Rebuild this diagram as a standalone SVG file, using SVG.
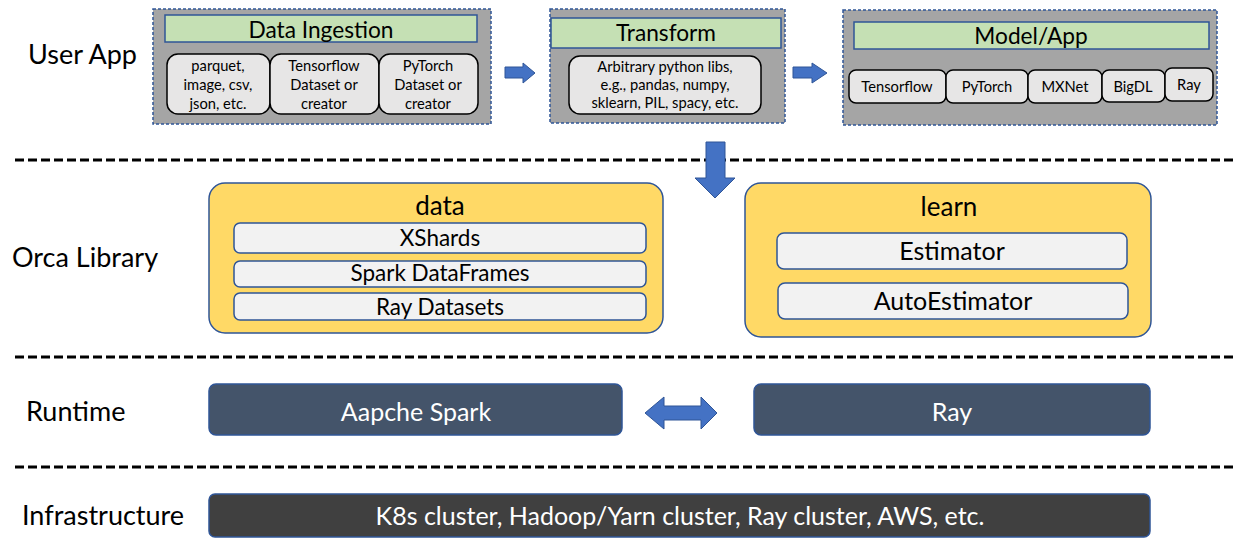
<svg xmlns="http://www.w3.org/2000/svg" width="1238" height="538" viewBox="0 0 1238 538">
<style>
text{font-family:Lato,"Liberation Sans",sans-serif;fill:#000}
.lbl{font-size:27px}
.grp{fill:#a5a5a5;stroke:#2f5597;stroke-width:1.5;stroke-dasharray:3 2}
.ttl{fill:#c5e0b4;stroke:#2f5597;stroke-width:1.5}
.sub{fill:#e7e6e6;stroke:#000;stroke-width:1.5}
.st{font-size:14.7px;text-anchor:middle}
.gt{font-size:22.7px;text-anchor:middle}
.yel{fill:#ffd966;stroke:#2f5597;stroke-width:1.5}
.item{fill:#f2f2f2;stroke:#2f5597;stroke-width:1.5}
.it{font-size:22.5px;text-anchor:middle}
.rt{fill:#44546a;stroke:#2f5597;stroke-width:1.5}
.inf{fill:#404040;stroke:#2f5597;stroke-width:1.5}
.wt{fill:#fff;font-size:25px;text-anchor:middle}
.sep{stroke:#000;stroke-width:3;stroke-dasharray:9 4}
.arr{fill:#4472c4;stroke:#2f5597;stroke-width:1}
</style>

<g id="labels">
<text class="lbl" x="28" y="64">User App</text>
<text class="lbl" x="12" y="267">Orca Library</text>
<text class="lbl" x="26" y="421">Runtime</text>
<text class="lbl" x="22" y="525">Infrastructure</text>
</g>

<g id="separators">
<line class="sep" x1="15" y1="160" x2="1235" y2="160"/>
<line class="sep" x1="15" y1="357" x2="1235" y2="357"/>
<line class="sep" x1="15" y1="467" x2="1235" y2="467"/>
</g>

<g id="data-ingestion">
<rect class="grp" x="153" y="9" width="338" height="115"/>
<rect class="ttl" x="165" y="15" width="312" height="27"/>
<text class="gt" x="321" y="38">Data Ingestion</text>
<rect class="sub" x="167" y="54" width="103" height="60" rx="11"/>
<rect class="sub" x="270" y="54" width="109" height="60" rx="11"/>
<rect class="sub" x="379" y="54" width="99" height="60" rx="11"/>
<text class="st" x="218" y="71">parquet,</text>
<text class="st" x="218" y="90">image, csv,</text>
<text class="st" x="218" y="109">json, etc.</text>
<text class="st" x="324" y="71">Tensorflow</text>
<text class="st" x="324" y="90">Dataset or</text>
<text class="st" x="324" y="109">creator</text>
<text class="st" x="428" y="71">PyTorch</text>
<text class="st" x="428" y="90">Dataset or</text>
<text class="st" x="428" y="109">creator</text>
</g>

<g id="transform">
<rect class="grp" x="550" y="9" width="235" height="114"/>
<rect class="ttl" x="551" y="18" width="230" height="30"/>
<text class="gt" x="666" y="41">Transform</text>
<rect class="sub" x="569" y="56" width="192" height="58" rx="11"/>
<text class="st" x="665" y="72">Arbitrary python libs,</text>
<text class="st" x="665" y="90">e.g., pandas, numpy,</text>
<text class="st" x="665" y="108">sklearn, PIL,  spacy, etc.</text>
</g>

<g id="model-app">
<rect class="grp" x="843" y="10" width="374" height="115"/>
<rect class="ttl" x="854" y="22" width="355" height="27"/>
<text class="gt" x="1031" y="44">Model/App</text>
<rect class="sub" x="849" y="70" width="97" height="33" rx="7"/>
<rect class="sub" x="946" y="70" width="82" height="33" rx="7"/>
<rect class="sub" x="1028" y="70" width="74" height="33" rx="7"/>
<rect class="sub" x="1102" y="70" width="63" height="32" rx="7"/>
<rect class="sub" x="1165" y="68" width="48" height="33" rx="7"/>
<text class="st" x="897" y="92">Tensorflow</text>
<text class="st" x="987" y="92">PyTorch</text>
<text class="st" x="1065" y="92">MXNet</text>
<text class="st" x="1133" y="92">BigDL</text>
<text class="st" x="1189" y="90">Ray</text>
</g>

<g id="data">
<rect class="yel" x="209" y="183" width="454" height="150" rx="16"/>
<text x="440" y="215" style="font-size:26px;text-anchor:middle">data</text>
<rect class="item" x="234" y="223" width="412" height="30" rx="6"/>
<rect class="item" x="234" y="261" width="412" height="26" rx="6"/>
<rect class="item" x="234" y="293" width="412" height="27" rx="6"/>
<text class="it" x="440" y="246">XShards</text>
<text class="it" x="440" y="281">Spark DataFrames</text>
<text class="it" x="440" y="315">Ray Datasets</text>
</g>

<g id="learn">
<rect class="yel" x="745" y="183" width="406" height="154" rx="16"/>
<text x="949" y="216" style="font-size:26px;text-anchor:middle">learn</text>
<rect class="item" x="777" y="233" width="350" height="36" rx="7"/>
<rect class="item" x="778" y="283" width="350" height="36" rx="7"/>
<text class="it" x="952" y="260" style="font-size:25px">Estimator</text>
<text class="it" x="953" y="310" style="font-size:25px">AutoEstimator</text>
</g>

<g id="spark">
<rect class="rt" x="209" y="384" width="413" height="51" rx="7"/>
<text class="wt" x="416" y="421">Aapche Spark</text>
</g>

<g id="ray">
<rect class="rt" x="754" y="384" width="396" height="51" rx="7"/>
<text class="wt" x="952" y="421">Ray</text>
</g>

<g id="infrastructure">
<rect class="inf" x="209" y="494" width="941" height="43" rx="6"/>
<text class="wt" x="680" y="525">K8s cluster, Hadoop/Yarn cluster, Ray cluster, AWS, etc.</text>
</g>

<g id="connectors">
<polygon class="arr" points="505,67 523,67 523,63 535,73 523,83 523,78 505,78"/>
<polygon class="arr" points="793,67 812,67 812,63 827,73 812,83 812,78 793,78"/>
<polygon class="arr" points="706,142 725,142 725,178 735,178 715,198 695,178 706,178"/>
<polygon class="arr" points="645,413 664,397 664,406 701,406 701,397 717,413 701,429 701,420 664,420 664,429"/>
</g>
</svg>
